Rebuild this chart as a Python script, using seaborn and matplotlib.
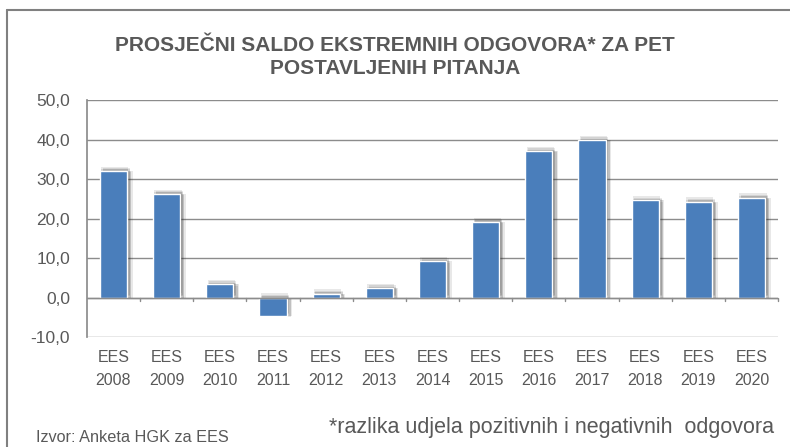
import matplotlib.pyplot as plt
import matplotlib.patheffects as pe
from matplotlib.lines import Line2D
from matplotlib.ticker import FuncFormatter, MultipleLocator
import seaborn as sns
import pandas as pd

# data
years = ["2008", "2009", "2010", "2011", "2012", "2013", "2014",
         "2015", "2016", "2017", "2018", "2019", "2020"]
saldo = [32.1, 26.3, 3.4, -4.6, 1.0, 2.4, 9.2, 19.2, 37.1, 39.9, 24.6, 24.3, 25.3]
labels = ["EES\n" + y for y in years]

title = "PROSJEČNI SALDO EKSTREMNIH ODGOVORA* ZA PET\nPOSTAVLJENIH PITANJA"
note = "*razlika udjela pozitivnih i negativnih  odgovora"
source = "Izvor: Anketa HGK za EES"

df = pd.DataFrame({"label": labels, "saldo": saldo})

sns.set_theme(style="white")
plt.rcParams['font.family'] = ['Liberation Sans', 'DejaVu Sans']

grey_txt = "#595959"
grid_col = "#8c8c8c"
bar_col = "#4a7ebb"

fig = plt.figure(figsize=(7.9, 4.47), dpi=100)
ax = fig.add_axes([0.110, 0.246, 0.875, 0.530])

sns.barplot(data=df, x="label", y="saldo", color=bar_col, width=0.51,
            saturation=1, ax=ax)
# soft shadow around the bars, a few layers to look blurred
shadow = [pe.SimplePatchShadow(offset=o, alpha=0.10, shadow_rgbFace="#222222")
          for o in [(1, 1), (2, 1), (3, 0), (3, -1), (4, 0), (2, 2), (1, 3)]]
for p in ax.patches:
    p.set_path_effects(shadow + [pe.Normal()])

ax.set_ylim(-10, 50)
ax.set_xlim(-0.5, len(labels) - 0.5)
ax.yaxis.set_major_locator(MultipleLocator(10))
ax.yaxis.set_major_formatter(FuncFormatter(lambda v, _: f"{v:.1f}".replace(".", ",")))
ax.yaxis.grid(True, color=grid_col, linewidth=1)
ax.set_axisbelow(True)
ax.set_xlabel("")
ax.set_ylabel("")

for s in ["top", "right", "bottom"]:
    ax.spines[s].set_visible(False)
ax.spines["left"].set_color(grid_col)

# zero axis line with small ticks between categories
ax.axhline(0, color=grid_col, linewidth=1, zorder=1)
for i in range(len(labels)):
    ax.plot([i + 0.5, i + 0.5], [0, -0.9], color=grid_col, linewidth=1, clip_on=False, zorder=1)

ax.tick_params(axis="y", length=5, color=grid_col, labelsize=12.5, labelcolor=grey_txt, pad=7)
ax.tick_params(axis="x", length=0, labelsize=11.5, labelcolor=grey_txt, pad=9)
for t in ax.get_xticklabels():
    t.set_linespacing(1.7)

fig.text(0.5, 0.872, title, ha="center", va="center", fontsize=15, fontweight="bold",
         color=grey_txt, linespacing=1.25)
fig.text(0.98, 0.043, note, ha="right", va="center", fontsize=15.5, color=grey_txt)
fig.text(0.045, 0.022, source, ha="left", va="center", fontsize=11.7, color=grey_txt)

# outer frame (top and left edges visible)
fig.add_artist(Line2D([7 / 790, 1.0], [1 - 10 / 447] * 2, transform=fig.transFigure,
                      color="#808080", linewidth=1.5))
fig.add_artist(Line2D([7 / 790] * 2, [0, 1 - 10 / 447], transform=fig.transFigure,
                      color="#808080", linewidth=1.5))

fig.savefig("out.png", dpi=100)
